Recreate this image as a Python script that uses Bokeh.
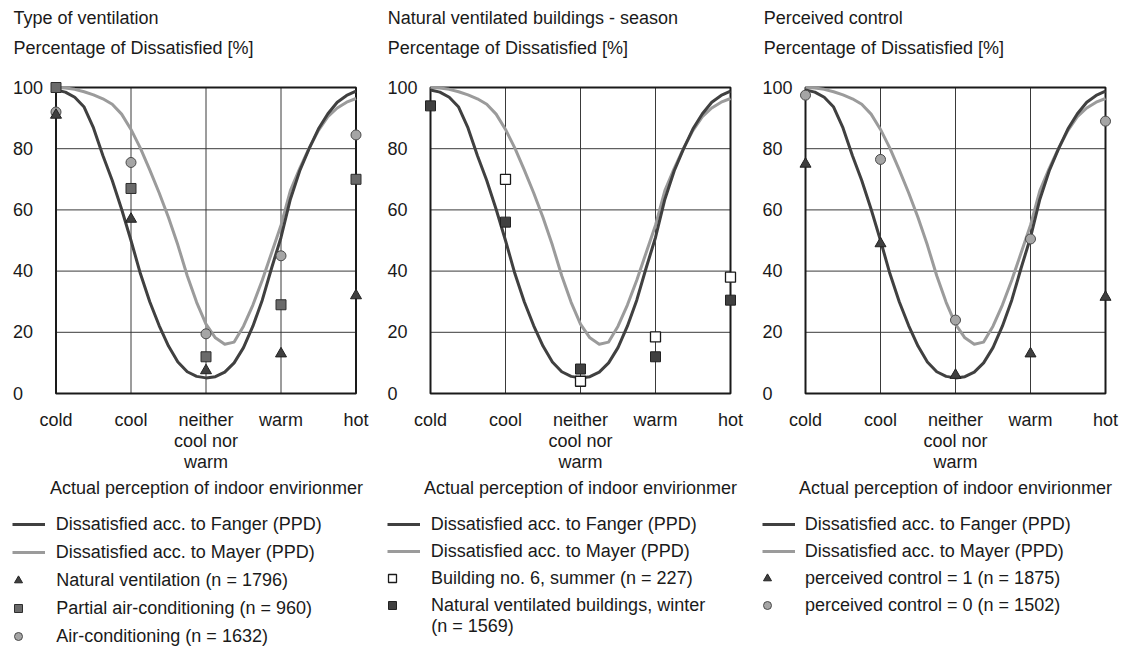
from bokeh.plotting import figure
from bokeh.layouts import row
from bokeh.models import FixedTicker, Label, Legend, LegendItem
from bokeh.embed import file_html
from bokeh.resources import INLINE

NAN = float("nan")

# ---------------- data ----------------
categories = ["cold", "cool", "neither\ncool nor\nwarm", "warm", "hot"]
cat_x = [0, 1, 2, 3, 4]
y_ticks = [0, 20, 40, 60, 80, 100]
y_tick_labels = ["0", "20", "40", "60", "80", "100"]

curve_x = [0.0, 0.125, 0.25, 0.375, 0.5, 0.625, 0.75, 0.875,
           1.0, 1.125, 1.25, 1.375, 1.5, 1.625, 1.75, 1.875,
           2.0, 2.125, 2.25, 2.375, 2.5, 2.625, 2.75, 2.875,
           3.0, 3.125, 3.25, 3.375, 3.5, 3.625, 3.75, 3.875, 4.0]
fanger_ppd = [99.2, 98.5, 96.8, 93.6, 86.8, 77.8, 69.6, 60.2,
              50.0, 39.2, 30.0, 22.2, 15.5, 10.3, 7.1, 5.6,
              5.1, 5.5, 7.0, 10.0, 15.0, 22.0, 30.5, 41.0,
              51.0, 63.5, 72.8, 80.0, 86.5, 91.4, 95.2, 97.4, 98.8]
mayer_ppd = [100.0, 99.8, 99.4, 98.6, 97.6, 96.3, 94.5, 91.3,
             86.3, 80.2, 73.1, 65.6, 57.5, 48.5, 38.5, 29.8,
             22.7, 18.2, 16.1, 16.8, 22.0, 28.9, 37.0, 46.0,
             55.0, 66.3, 73.6, 80.2, 86.0, 90.5, 93.3, 95.2, 96.4]

# panel 1 - type of ventilation
natural_ventilation = [91.0, 57.0, 7.5, 13.0, 32.0]
partial_air_cond = [100.0, 67.0, 12.0, 29.0, 70.0]
air_conditioning = [92.0, 75.5, 19.5, 45.0, 84.5]
# panel 2 - natural ventilated buildings, season
building6_summer = [NAN, 70.0, 4.0, 18.5, 38.0]
nat_vent_winter = [94.0, 56.0, 8.0, 12.0, 30.5]
# panel 3 - perceived control
perceived_control_1 = [75.0, 49.0, 6.0, 13.0, 31.5]
perceived_control_0 = [97.5, 76.5, 24.0, 50.5, 89.0]

panel_titles = ["Type of ventilation", "Natural ventilated buildings - season", "Perceived control"]
y_header = "Percentage of Dissatisfied [%]"
x_title = "Actual perception of indoor envirionmer"
fanger_label = "Dissatisfied acc. to Fanger (PPD)"
mayer_label = "Dissatisfied acc. to Mayer (PPD)"

# ---------------- styles / layout (pixels) ----------------
FONT = "Liberation Sans"
TEXT = "#1a1a1a"
FS = "18px"
GRID = "#3a3a3a"
FANGER_STYLE = dict(line_width=3, line_color="#404040", line_join="round")
MAYER_STYLE = dict(line_width=3, line_color="#9b9b9b", line_join="round")
MARKERS = {
    "tri": dict(marker="triangle", size=11, fill_color="#3f3f3f", line_color="#222222", line_width=1),
    "sq_mid": dict(marker="square", size=10, fill_color="#6a6a6a", line_color="#2e2e2e", line_width=1),
    "circ": dict(marker="circle", size=10, fill_color="#a5a5a5", line_color="#4a4a4a", line_width=1),
    "sq_open": dict(marker="square", size=10, fill_color="#ffffff", line_color="#1a1a1a", line_width=1.3),
    "sq_dark": dict(marker="square", size=10, fill_color="#404040", line_color="#222222", line_width=1),
}
H = 646
BOX_TOP, BOX_BOTTOM, BOX_W = 87.0, 393.0, 300.0
PX_X = BOX_W / (cat_x[-1] - cat_x[0])
PX_Y = (BOX_BOTTOM - BOX_TOP) / (y_ticks[-1] - y_ticks[0])
ITEM_H = 22
FIRST_ROW = 524.0
LABEL_DY = 6.5   # correction for label baseline placement
TITLE_BASE, HEADER_BASE = 24.3 - LABEL_DY, 54.0 - LABEL_DY


def make_panel(cfg):
    W = cfg["width"]
    bl = cfg["box_left"]
    x_range = (cat_x[0] - bl / PX_X, cat_x[0] + (W - bl) / PX_X)
    y_range = (y_ticks[0] - (H - BOX_BOTTOM) / PX_Y, y_ticks[-1] + BOX_TOP / PX_Y)
    p = figure(width=W, height=H, x_range=x_range, y_range=y_range, title=None,
               output_backend="svg", toolbar_location=None, min_border=0)
    p.outline_line_color = None
    p.grid.visible = False
    p.background_fill_color = "white"
    p.border_fill_color = "white"

    xa = p.xaxis[0]
    xa.fixed_location = y_ticks[0]
    xa.bounds = (cat_x[0], cat_x[-1])
    xa.ticker = FixedTicker(ticks=cat_x)
    xa.major_label_overrides = {x: c for x, c in zip(cat_x, categories)}
    xa.major_label_text_font = FONT
    xa.major_label_text_font_size = FS
    xa.major_label_text_color = TEXT
    xa.major_label_text_line_height = 1.05
    xa.major_label_standoff = 10
    xa.major_tick_line_color = None
    xa.minor_tick_line_color = None
    xa.axis_line_color = None
    xa.axis_label = x_title
    xa.axis_label_text_font = FONT
    xa.axis_label_text_font_size = FS
    xa.axis_label_text_font_style = "normal"
    xa.axis_label_text_color = TEXT
    xa.axis_label_standoff = 3

    ya = p.yaxis[0]
    ya.fixed_location = cat_x[0]
    ya.bounds = (y_ticks[0], y_ticks[-1])
    ya.ticker = FixedTicker(ticks=y_ticks)
    ya.major_label_overrides = {v: l + "\u2007" * (3 - len(l)) for v, l in zip(y_ticks, y_tick_labels)}
    ya.major_label_text_font = FONT
    ya.major_label_text_font_size = FS
    ya.major_label_text_color = TEXT
    ya.major_label_standoff = cfg["y_standoff"]
    ya.major_tick_out = 0
    ya.major_tick_in = 0
    ya.major_tick_line_color = None
    ya.minor_tick_line_color = None
    ya.axis_line_color = None

    # grid lines and plot box at the tick positions
    inner_x = cat_x[1:-1]
    inner_y = y_ticks[1:-1]
    p.segment(x0=inner_x, y0=[y_ticks[0]] * len(inner_x), x1=inner_x, y1=[y_ticks[-1]] * len(inner_x),
              line_color=GRID, line_width=1)
    p.segment(x0=[cat_x[0]] * len(inner_y), y0=inner_y, x1=[cat_x[-1]] * len(inner_y), y1=inner_y,
              line_color=GRID, line_width=1)
    p.quad(left=cat_x[0], right=cat_x[-1], bottom=y_ticks[0], top=y_ticks[-1],
           fill_color=None, line_color="#1a1a1a", line_width=2)

    r_m = p.line(curve_x, mayer_ppd, **MAYER_STYLE)
    r_f = p.line(curve_x, fanger_ppd, **FANGER_STYLE)
    rends = {}
    for key, vals, style in cfg["series"]:
        rends[key] = p.scatter(cat_x, vals, **MARKERS[style])

    # titles
    for txt, base in ((cfg["title"], TITLE_BASE), (y_header, HEADER_BASE)):
        p.add_layout(Label(x=cfg["title_x"], y=H - base, x_units="screen", y_units="screen", text=txt,
                           text_font=FONT, text_font_size=FS, text_color=TEXT,
                           text_align="left", text_baseline="alphabetic"))

    # legends
    pitch = cfg["pitch"]
    spacing = pitch - ITEM_H
    common = dict(padding=0, margin=0, border_line_color=None, background_fill_alpha=0,
                  label_text_font=FONT, label_text_font_size=FS, label_text_color=TEXT,
                  glyph_height=ITEM_H, label_height=ITEM_H, spacing=spacing)
    top = FIRST_ROW - ITEM_H / 2
    bottom = top + 2 * ITEM_H + spacing
    p.add_layout(Legend(items=[LegendItem(label=fanger_label, renderers=[r_f]),
                               LegendItem(label=mayer_label, renderers=[r_m])],
                        location=(cfg["line_x"], H - bottom), glyph_width=33,
                        label_standoff=cfg["line_standoff"], **common))
    items = [LegendItem(label=lab, renderers=[rends[k]]) for k, lab in cfg["legend"]]
    n = len(items)
    top2 = top + 2 * pitch
    bottom2 = top2 + n * ITEM_H + (n - 1) * spacing
    p.add_layout(Legend(items=items, location=(cfg["marker_x"], H - bottom2), glyph_width=20,
                        label_standoff=cfg["marker_standoff"], **common))
    if cfg.get("extra_line"):
        last_center = FIRST_ROW + (n + 1) * pitch
        base = last_center + 6.5 + 20 - LABEL_DY
        p.add_layout(Label(x=cfg["text_x"], y=H - base, x_units="screen",
                           y_units="screen", text=cfg["extra_line"], text_font=FONT,
                           text_font_size=FS, text_color=TEXT, text_align="left",
                           text_baseline="alphabetic"))
    return p


configs = [
    dict(width=380, box_left=55.5, y_standoff=13, title=panel_titles[0], title_x=13,
         line_x=11.7, line_standoff=11, marker_x=8.3, marker_standoff=28, text_x=56, pitch=28,
         series=[("ac", air_conditioning, "circ"), ("pac", partial_air_cond, "sq_mid"),
                 ("nv", natural_ventilation, "tri")],
         legend=[("nv", "Natural ventilation (n = 1796)"),
                 ("pac", "Partial air-conditioning (n = 960)"),
                 ("ac", "Air-conditioning (n = 1632)")]),
    dict(width=377, box_left=50.0, y_standoff=13, title=panel_titles[1], title_x=7.3,
         line_x=6.7, line_standoff=11, marker_x=2, marker_standoff=29, text_x=50.7, pitch=27,
         series=[("summer", building6_summer, "sq_open"), ("winter", nat_vent_winter, "sq_dark")],
         legend=[("summer", "Building no. 6, summer (n = 227)"),
                 ("winter", "Natural ventilated buildings, winter")],
         extra_line="(n = 1569)"),
    dict(width=367, box_left=48.0, y_standoff=13, title=panel_titles[2], title_x=6.3,
         line_x=4.7, line_standoff=10, marker_x=0, marker_standoff=28, text_x=48, pitch=27,
         series=[("c0", perceived_control_0, "circ"), ("c1", perceived_control_1, "tri")],
         legend=[("c1", "perceived control = 1 (n = 1875)"),
                 ("c0", "perceived control = 0 (n = 1502)")]),
]

layout = row(*[make_panel(c) for c in configs])
open("out.html", "w").write(file_html(layout, INLINE))
